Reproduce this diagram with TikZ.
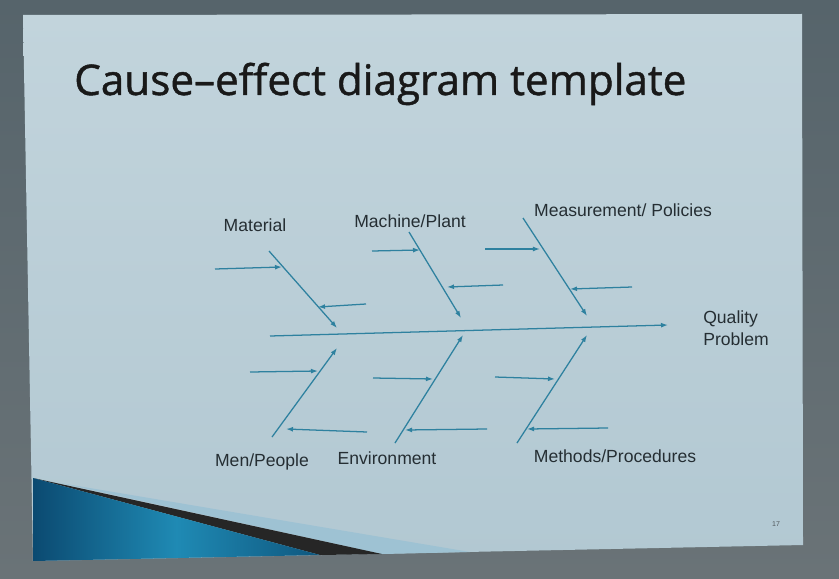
\documentclass[tikz,border=0pt]{standalone}
\usepackage{fontspec}
\setmainfont{Liberation Sans}
\newfontfamily\titulofont[FakeBold=1.1]{Open Sans}
\usetikzlibrary{arrows.meta}

\definecolor{fundo}{HTML}{56646B}
\definecolor{fundobaixo}{HTML}{6A7377}
\definecolor{slidetopo}{HTML}{C2D4DC}
\definecolor{slidebase}{HTML}{B2C8D2}
\definecolor{osso}{HTML}{2E819F}
\definecolor{texto}{HTML}{252E33}
\definecolor{azulesc}{HTML}{0B4A71}
\definecolor{azulcla}{HTML}{1F8AB4}
\definecolor{faixa}{HTML}{9EC2D3}

\tikzset{
	espinha/.style={draw=osso, line width=0.9pt},
	seta/.style={espinha, -{Latex[length=5pt,width=3.5pt]}},
	rotulo/.style={font=\fontsize{12.5}{15.5}\selectfont, text=texto, inner sep=0pt}
}

\begin{document}
\begin{tikzpicture}[x=0.025cm,y=-0.025cm]
		\shade[top color=fundo, bottom color=fundobaixo] (0,0) rectangle (839,578);	% Fundo
		\useasboundingbox (0,0) rectangle (839,578);
		\shade[top color=slidetopo, bottom color=slidebase] (23,15) -- (802,14) -- (803,545) -- (33,561) -- cycle;	% Slide
		% Faixa do canto
		\fill[faixa] (60,483) -- (470,552) -- (382,554) -- cycle;
		\fill[black!85] (33,478) -- (382,554) -- (320,555) -- cycle;
		\shade[left color=azulesc, right color=azulesc!80!azulcla, middle color=azulcla] (33,478) -- (320,555) -- (33,561) -- cycle;
		
		% Titulo
		\node[anchor=base west, inner sep=0pt, text=black!90, font=\titulofont\fontsize{30}{35}\selectfont] (titulo) at (74,95) {Cause–effect diagram template};
		\node[text=texto!80, font=\fontsize{5}{6}\selectfont, inner sep=0pt] (pagina) at (776,524) {17};
		
		% Espinha central
		\coordinate (cauda) at (270,336);
		\coordinate (cabeca) at (668,325);
		\draw[seta] (cauda) -- (cabeca);
		\node[rotulo, anchor=west, align=left] (efeito) at (703,328) {Quality\\Problem};
		
		% Ossos de cima
		\coordinate (mat1) at (269,251);	\coordinate (mat2) at (337,328);
		\coordinate (maq1) at (409,232);	\coordinate (maq2) at (461,318);
		\coordinate (med1) at (523,218);	\coordinate (med2) at (587,316);
		% Ossos de baixo
		\coordinate (hom1) at (272,437);	\coordinate (hom2) at (337,348);
		\coordinate (amb1) at (395,443);	\coordinate (amb2) at (463,335);
		\coordinate (met1) at (517,443);	\coordinate (met2) at (587,335);
		\foreach \o in {mat,maq,med,hom,amb,met}
			\draw[seta] (\o1) -- (\o2);
		
		% Causas secundarias
		\coordinate (mata1) at (215,269);	\coordinate (mata2) at (282,267);
		\coordinate (matb1) at (366,304);	\coordinate (matb2) at (318,307);
		\coordinate (maqa1) at (372,251);	\coordinate (maqa2) at (420,250);
		\coordinate (maqb1) at (503,285);	\coordinate (maqb2) at (447,287);
		\coordinate (meda1) at (485,249);	\coordinate (meda2) at (540,249);
		\coordinate (medb1) at (632,287);	\coordinate (medb2) at (570,289);
		\coordinate (homa1) at (250,372);	\coordinate (homa2) at (318,371);
		\coordinate (homb1) at (367,432);	\coordinate (homb2) at (286,429);
		\coordinate (amba1) at (373,378);	\coordinate (amba2) at (433,379);
		\coordinate (ambb1) at (487,429);	\coordinate (ambb2) at (405,430);
		\coordinate (meta1) at (495,377);	\coordinate (meta2) at (555,379);
		\coordinate (metb1) at (608,428);	\coordinate (metb2) at (527,429);
		\foreach \o in {mat,maq,med,hom,amb,met}{
			\draw[seta] (\o a1) -- (\o a2);
			\draw[seta] (\o b1) -- (\o b2);
		}
		
		% Rotulos
		\node[rotulo] (material) at (255,225) {Material};
		\node[rotulo] (maquina) at (410,221) {Machine/Plant};
		\node[rotulo] (medicao) at (623,210) {Measurement/ Policies};
		\node[rotulo] (pessoas) at (262,462) {Men/People};
		\node[rotulo] (ambiente) at (387,458) {Environment};
		\node[rotulo] (metodos) at (615,456) {Methods/Procedures};
	\end{tikzpicture}
\end{document}
